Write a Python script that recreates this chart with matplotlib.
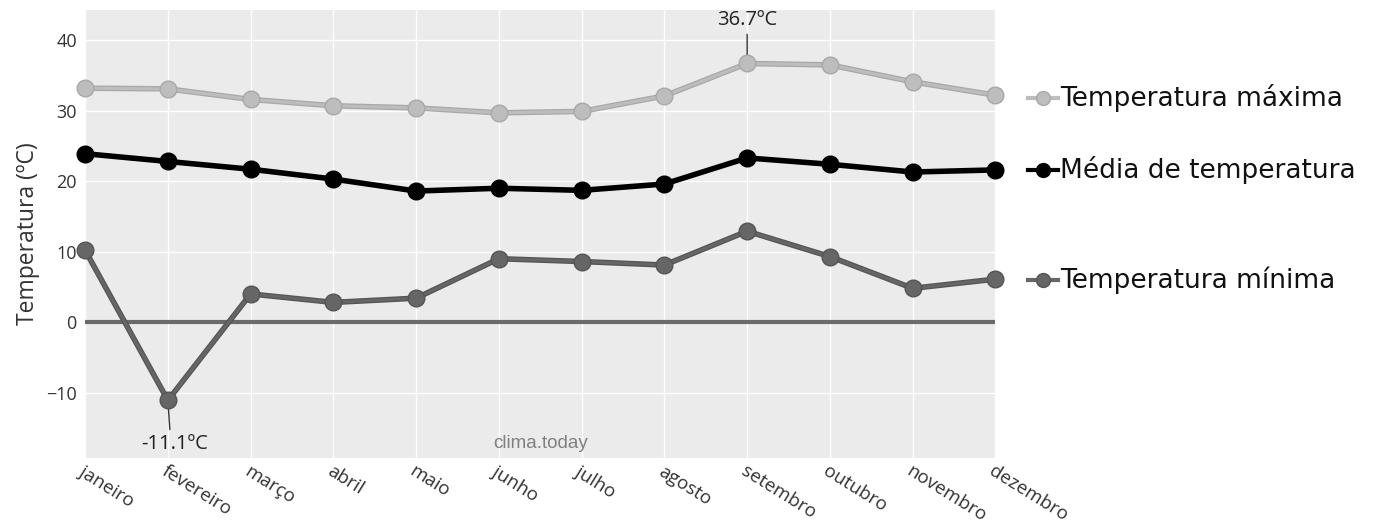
import matplotlib.pyplot as plt
from matplotlib.lines import Line2D

meses = ['janeiro', 'fevereiro', 'março', 'abril', 'maio', 'junho',
         'julho', 'agosto', 'setembro', 'outubro', 'novembro', 'dezembro']
temp_max = [33.2, 33.1, 31.6, 30.7, 30.4, 29.7, 29.9, 32.1, 36.7, 36.5, 34.1, 32.2]
temp_media = [23.9, 22.8, 21.7, 20.3, 18.6, 19.0, 18.7, 19.6, 23.3, 22.4, 21.3, 21.6]
temp_min = [10.2, -11.1, 4.0, 2.8, 3.4, 9.0, 8.6, 8.1, 12.9, 9.3, 4.8, 6.1]
yticks = [-10, 0, 10, 20, 30, 40]

fig = plt.figure(figsize=(13.73, 5.23), dpi=100)
ax = fig.add_axes([0.062, 0.124, 0.663, 0.857])
ax.set_facecolor('#ebebeb')
x = list(range(len(meses)))

ax.axhline(0, color='#6a6a6a', lw=3, zorder=2)
series = [
    (temp_max, '#bdbdbd', '#a8a8a8', 'Temperatura máxima'),
    (temp_media, '#000000', '#000000', 'Média de temperatura'),
    (temp_min, '#666666', '#555555', 'Temperatura mínima'),
]
for vals, cor, borda, nome in series:
    ax.plot(x, vals, color=borda, lw=4, zorder=3, solid_capstyle='round')
    ax.plot(x, vals, color=cor, lw=2.2, marker='o', markersize=12,
            markerfacecolor=cor, markeredgecolor=borda, markeredgewidth=1,
            zorder=4, clip_on=False)

# anotações de máximo e mínimo
i_max = temp_max.index(max(temp_max))
ax.annotate('%.1fºC' % max(temp_max), xy=(i_max, max(temp_max)),
            xytext=(0, 24), textcoords='offset points', ha='center',
            va='bottom', fontsize=14.5, color='#222222', family='Open Sans',
            arrowprops=dict(arrowstyle='-', color='#333333', lw=1,
                            shrinkA=1, shrinkB=2))
i_min = temp_min.index(min(temp_min))
ax.annotate('%.1fºC' % min(temp_min), xy=(i_min, min(temp_min)),
            xytext=(5, -24), textcoords='offset points', ha='center',
            va='top', fontsize=14.5, color='#222222', family='Open Sans',
            arrowprops=dict(arrowstyle='-', color='#333333', lw=1,
                            shrinkA=1, shrinkB=2, relpos=(0.43, 1.0)))

ax.text(5.5, -17.2, 'clima.today', ha='center', va='center', fontsize=13.5,
        color='#808080', family='Liberation Sans')

ax.set_xlim(0, 11)
ax.set_ylim(-19.3, 44.3)
ax.set_xticks(x)
ax.set_xticklabels(meses, rotation=-32, ha='left', va='top',
                   rotation_mode='anchor', fontsize=13.5, color='#333333',
                   family='Open Sans')
ax.set_yticks(yticks)
ax.set_yticklabels(['−10', '0', '10', '20', '30', '40'], fontsize=13,
                   color='#333333', family='Open Sans')
ax.tick_params(axis='x', length=0, pad=3)
ax.tick_params(axis='y', length=0, pad=6)
ax.grid(True, color='white', lw=1)
ax.set_axisbelow(True)
for s in ax.spines.values():
    s.set_visible(False)
ax.set_ylabel('Temperatura (ºC)', fontsize=16.5, color='#333333',
              family='Open Sans', labelpad=4)

# legenda fora do gráfico
leg_y = [98, 170, 280]
for (vals, cor, borda, nome), yy in zip(series, leg_y):
    yf = 1 - yy / 523
    fig.add_artist(Line2D([1028 / 1373, 1058 / 1373], [yf, yf], color=cor,
                          lw=3, transform=fig.transFigure))
    fig.add_artist(Line2D([1043 / 1373], [yf], marker='o', markersize=10,
                          color=cor, markeredgecolor=borda,
                          transform=fig.transFigure))
    fig.text(1060 / 1373, yf, nome, fontsize=19, va='center', ha='left',
             color='#111111')

plt.savefig('out.png', dpi=100)
